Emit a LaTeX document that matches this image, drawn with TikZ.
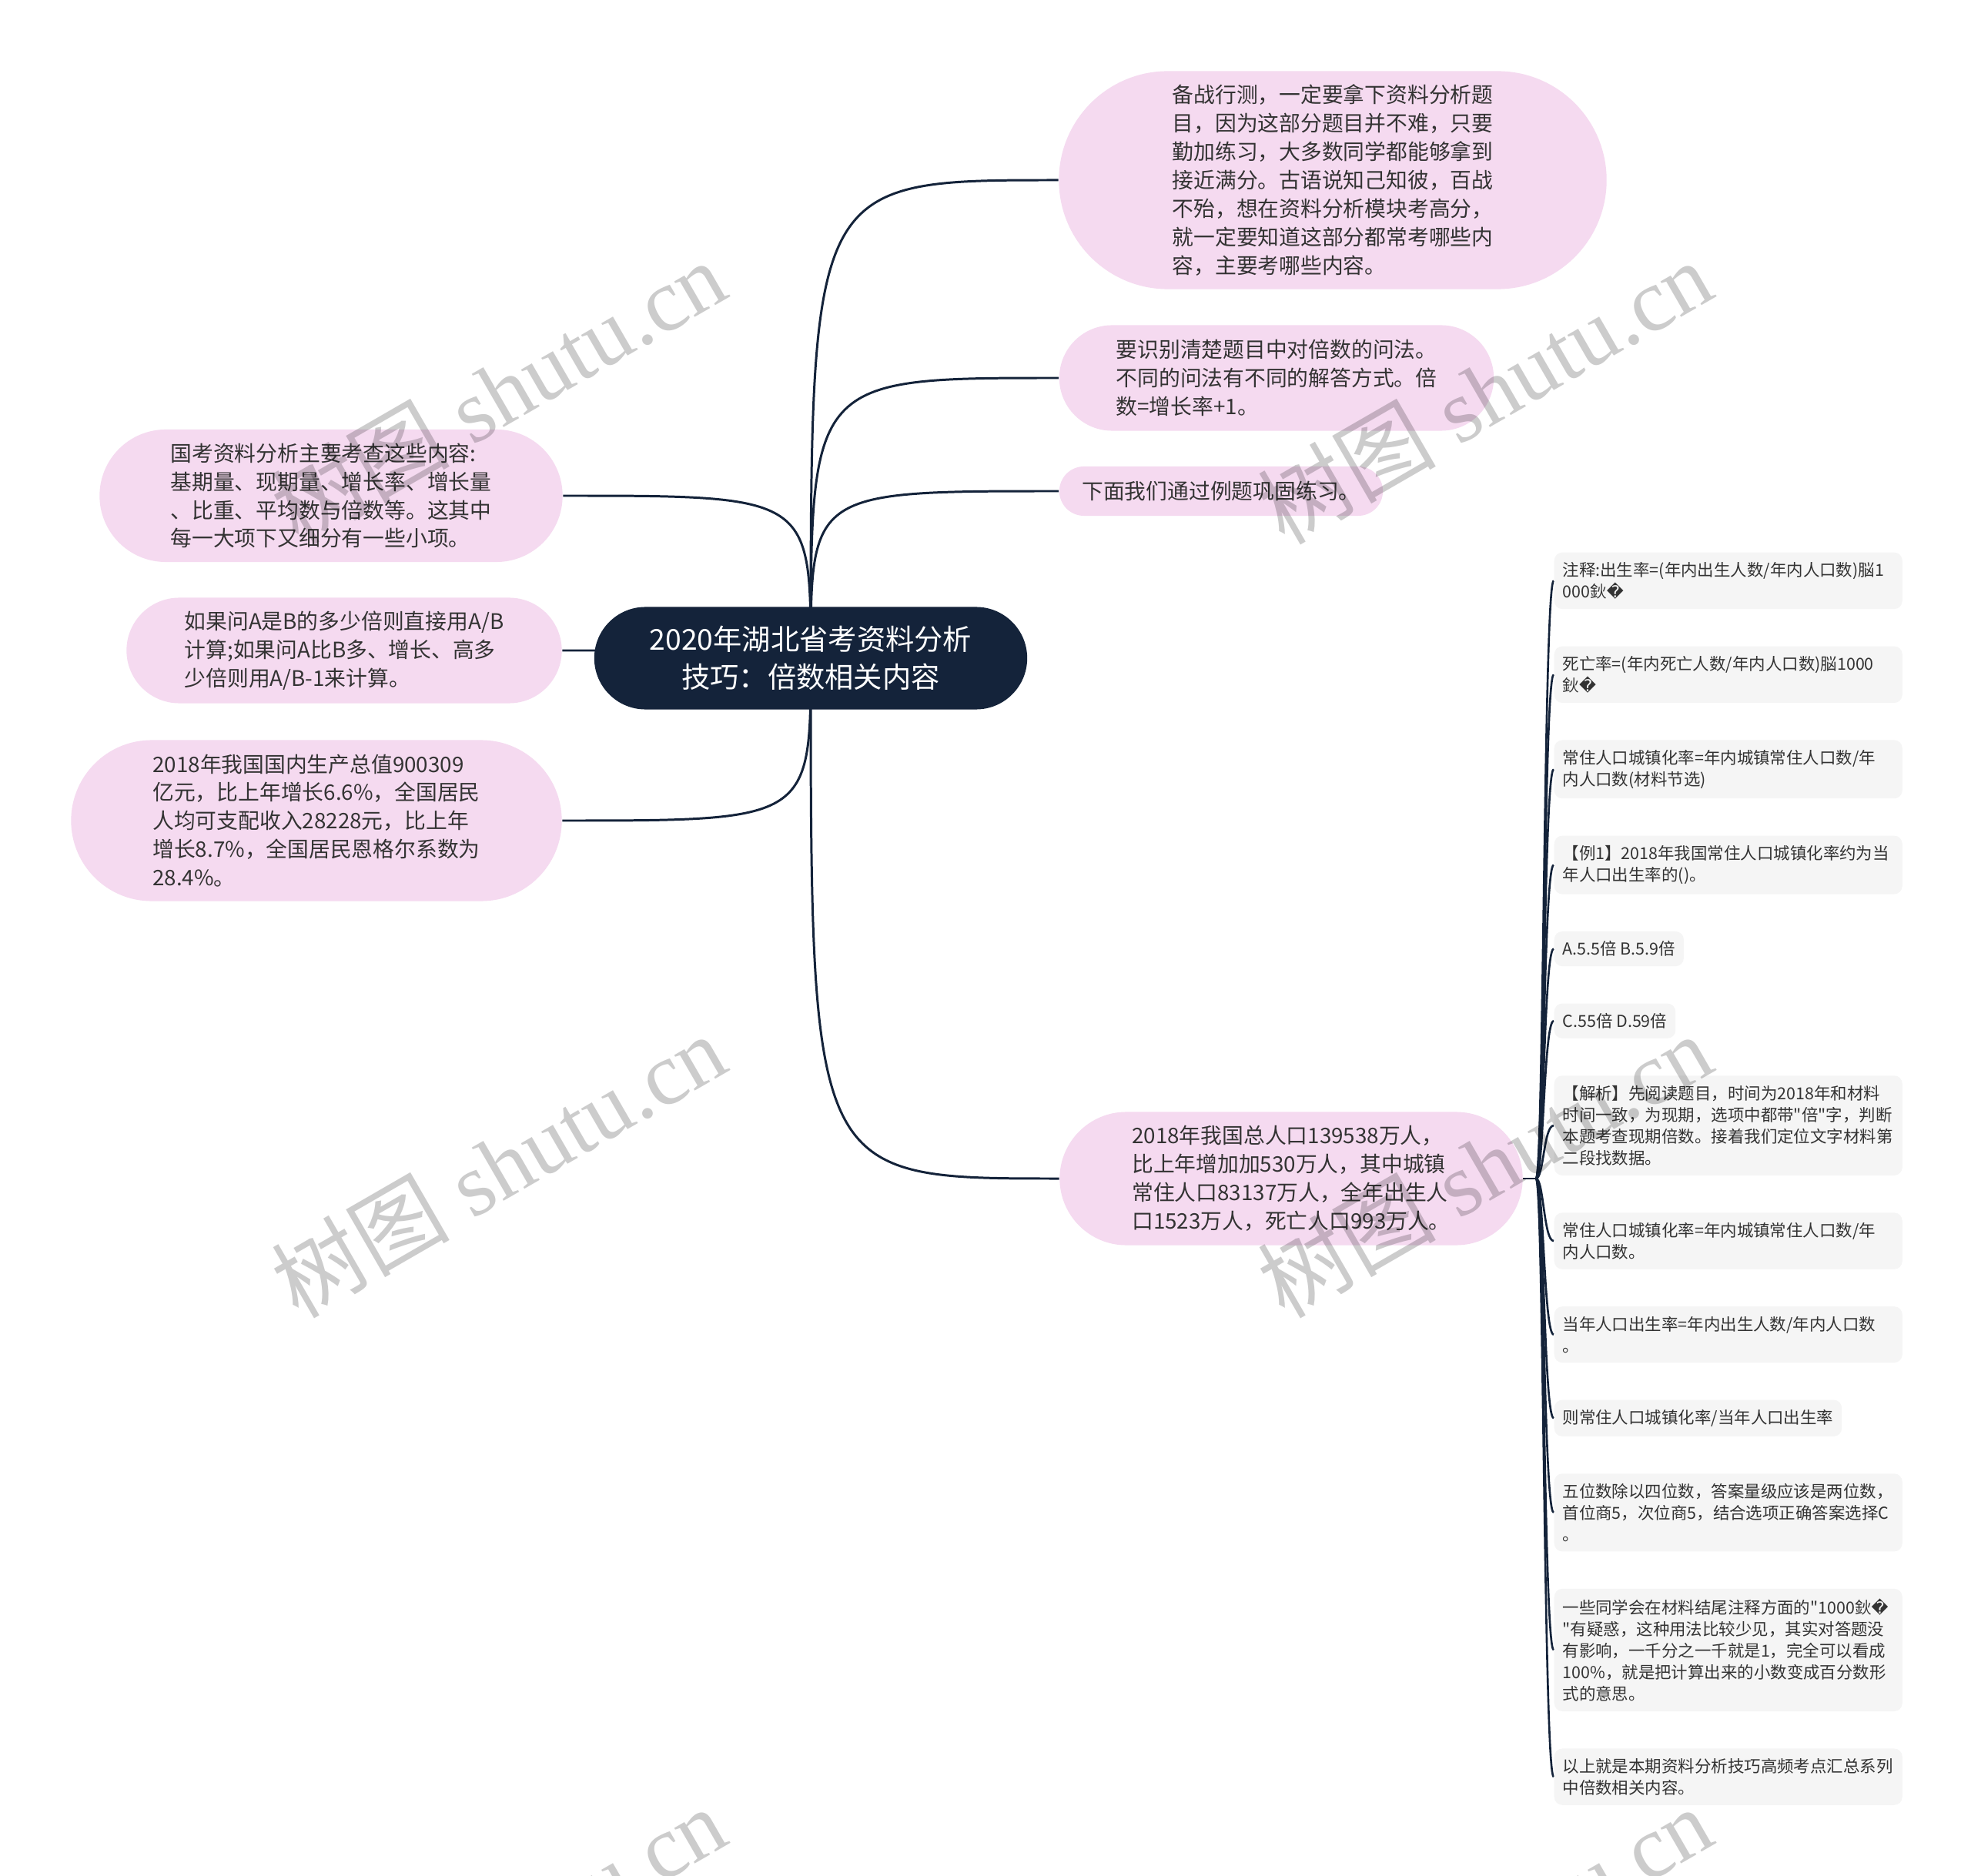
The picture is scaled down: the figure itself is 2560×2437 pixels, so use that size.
\documentclass[tikz,border=0pt]{standalone}
\usepackage{fontspec}
\newfontfamily\cjk{Noto Sans CJK SC}
\newfontfamily\djv{DejaVu Sans}
\newfontfamily\wmserif{Liberation Serif}
\usepackage{xcolor}
\usepackage{tikz}
\usetikzlibrary{positioning, shapes.misc, backgrounds}

\definecolor{navy}{HTML}{14233A}
\definecolor{pinkfill}{HTML}{F5DAF0}
\definecolor{leaffill}{HTML}{F5F5F5}
\definecolor{inktext}{HTML}{333333}

\newcommand{\repchar}{{\djv\symbol{"FFFD}}}

\begin{document}
\begin{tikzpicture}[
    x=0.01cm, y=-0.01cm,
    hubbox/.style={rounded rectangle, fill=navy, text=white, align=center, inner sep=0pt, font=\cjk\fontsize{10.6pt}{14pt}\selectfont},
    pill/.style={rounded rectangle, fill=pinkfill, text=inktext, align=left, inner sep=0pt, font=\cjk\fontsize{7.9pt}{10.5pt}\selectfont},
    leaf/.style={rectangle, rounded corners=3pt, fill=leaffill, text=inktext, align=left, inner xsep=3.1pt, inner ysep=3.6pt, font=\cjk\fontsize{6.1pt}{8pt}\selectfont},
    leafwide/.style={leaf, text width=4.3cm},
    link/.style={draw=navy, line width=0.85pt},
    twig/.style={draw=navy, line width=0.75pt},
    watermark/.style={rotate=30, text=black, text opacity=0.2, font=\wmserif\fontsize{33pt}{33pt}\selectfont}
]
\useasboundingbox (0,0) rectangle (2560,2437);

% centre topic
\node[hubbox, minimum width=5.62cm, minimum height=1.33cm] (hub) at (1053,855) {2020年湖北省考资料分析\\技巧：倍数相关内容};

% right branches
\node[pill, minimum width=7.11cm, minimum height=2.83cm] (n1) at (1731,234) {备战行测，一定要拿下资料分析题\\目，因为这部分题目并不难，只要\\勤加练习，大多数同学都能够拿到\\接近满分。古语说知己知彼，百战\\不殆，想在资料分析模块考高分，\\就一定要知道这部分都常考哪些内\\容，主要考哪些内容。};
\node[pill, minimum width=5.64cm, minimum height=1.37cm] (n2) at (1658,491) {要识别清楚题目中对倍数的问法。\\不同的问法有不同的解答方式。倍\\数=增长率+1。};
\node[pill, minimum width=4.2cm, minimum height=0.64cm] (n3) at (1586,638) {下面我们通过例题巩固练习。};
\node[pill, minimum width=6.01cm, minimum height=1.73cm] (pop) at (1677,1531) {2018年我国总人口139538万人，\\比上年增加加530万人，其中城镇\\常住人口83137万人，全年出生人\\口1523万人，死亡人口993万人。};

% left branches
\node[pill, minimum width=6.01cm, minimum height=1.72cm] (m1) at (430,644) {国考资料分析主要考查这些内容:\\基期量、现期量、增长率、增长量\\、比重、平均数与倍数等。这其中\\每一大项下又细分有一些小项。};
\node[pill, minimum width=5.65cm, minimum height=1.37cm] (m2) at (447,845) {如果问A是B的多少倍则直接用A/B\\计算;如果问A比B多、增长、高多\\少倍则用A/B-1来计算。};
\node[pill, minimum width=6.37cm, minimum height=2.09cm] (m3) at (411,1066) {2018年我国国内生产总值900309\\亿元，比上年增长6.6\%，全国居民\\人均可支配收入28228元，比上年\\增长8.7\%，全国居民恩格尔系数为\\28.4\%。};

% leaves of the population branch
\node[leafwide, anchor=north west] (l1) at (2018,717) {注释:出生率=(年内出生人数/年内人口数)脳1\\000鈥\repchar};
\node[leafwide, below=4.7mm of l1.south west, anchor=north west] (l2) {死亡率=(年内死亡人数/年内人口数)脳1000\\鈥\repchar};
\node[leafwide, below=4.7mm of l2.south west, anchor=north west] (l3) {常住人口城镇化率=年内城镇常住人口数/年\\内人口数(材料节选)};
\node[leafwide, below=4.7mm of l3.south west, anchor=north west] (l4) {【例1】2018年我国常住人口城镇化率约为当\\年人口出生率的()。};
\node[leaf, below=4.7mm of l4.south west, anchor=north west] (l5) {A.5.5倍 B.5.9倍};
\node[leaf, below=4.7mm of l5.south west, anchor=north west] (l6) {C.55倍 D.59倍};
\node[leafwide, below=4.7mm of l6.south west, anchor=north west] (l7) {【解析】先阅读题目，时间为2018年和材料\\时间一致，为现期，选项中都带"倍"字，判断\\本题考查现期倍数。接着我们定位文字材料第\\二段找数据。};
\node[leafwide, below=4.7mm of l7.south west, anchor=north west] (l8) {常住人口城镇化率=年内城镇常住人口数/年\\内人口数。};
\node[leafwide, below=4.7mm of l8.south west, anchor=north west] (l9) {当年人口出生率=年内出生人数/年内人口数\\。};
\node[leaf, below=4.7mm of l9.south west, anchor=north west] (l10) {则常住人口城镇化率/当年人口出生率};
\node[leafwide, below=4.7mm of l10.south west, anchor=north west] (l11) {五位数除以四位数，答案量级应该是两位数，\\首位商5，次位商5，结合选项正确答案选择C\\。};
\node[leafwide, below=4.7mm of l11.south west, anchor=north west] (l12) {一些同学会在材料结尾注释方面的"1000鈥\repchar\\"有疑惑，这种用法比较少见，其实对答题没\\有影响，一千分之一千就是1，完全可以看成\\100\%，就是把计算出来的小数变成百分数形\\式的意思。};
\node[leafwide, below=4.7mm of l12.south west, anchor=north west] (l13) {以上就是本期资料分析技巧高频考点汇总系列\\中倍数相关内容。};

\coordinate (fork) at (1995,1531);

\begin{scope}[on background layer]
\path[fill=white] (0,0) rectangle (2560,2437);
\foreach \t in {n1, n2, n3, pop}
  \draw[link] (hub.center) .. controls (hub.center |- \t.west) .. (\t.west);
\foreach \t in {m1, m2, m3}
  \draw[link] (hub.center) .. controls (hub.center |- \t.east) .. (\t.east);
\draw[twig] (pop.east) -- (fork);
\foreach \i in {1,...,13}
  \draw[twig] (fork) .. controls +(10,0) and +(-13,0) .. (l\i.west);
\end{scope}

% site watermark
\foreach \p/\q [count=\k] in {647/509, 1928/509, 647/1514, 1928/1514, 647/2518, 1928/2518}
  \node[watermark] (w\k) at (\p,\q) {{\cjk 树图} shutu.cn};
\end{tikzpicture}
\end{document}
